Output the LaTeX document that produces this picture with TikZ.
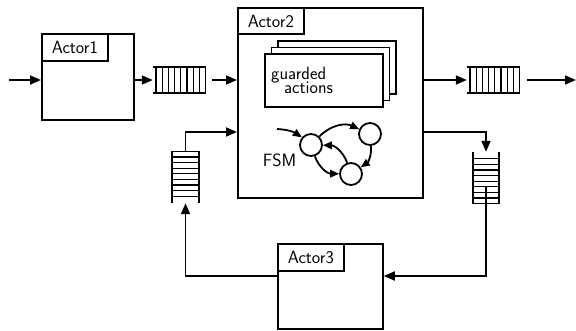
\documentclass[tikz,border=0pt]{standalone}
\usetikzlibrary{arrows.meta,calc}
\begin{document}
\begin{tikzpicture}[x=1pt,y=-1pt,
  lw/.style={line width=1.8pt},
  bar/.style={line width=1.3pt},
  arr/.style={lw,-{Triangle[length=11pt,width=9pt]}},
  sarr/.style={lw,-{Triangle[length=9pt,width=7.5pt]}},
  actor/.style={draw,lw,anchor=north west,inner sep=0pt},
  title/.style={draw,lw,anchor=north west,minimum width=66,minimum height=27,inner sep=0pt,font=\labelfont},
  qbox/.style={inner sep=0pt,minimum width=53,minimum height=26},
  vqbox/.style={inner sep=0pt,minimum width=26,minimum height=52},
  card/.style={draw,lw,fill=white,anchor=north west,minimum width=118,minimum height=53,inner sep=0pt},
  state/.style={circle,draw,lw,minimum size=22,inner sep=0pt},
  txt/.style={font=\labelfont,inner sep=0pt}]
\newcommand\labelfont{\sffamily\fontsize{17.8}{20}\selectfont}
\useasboundingbox (0,0) rectangle (576,330);

% actors
\node[actor,minimum width=92,minimum height=86] (a1) at (41,33) {};
\node[title] (t1) at (a1.north west) {Actor1};
\node[actor,minimum width=185,minimum height=190] (a2) at (237,7) {};
\node[title,minimum height=26] (t2) at (a2.north west) {Actor2};
\node[actor,minimum width=105,minimum height=85] (a3) at (277,243) {};
\node[title] (t3) at (a3.north west) {Actor3};

% guarded actions: stacked cards
\node[card] (c3) at (277,40) {};
\node[card] (c2) at (270.5,46.5) {};
\node[card] (c1) at (264,53) {};
\node[txt,anchor=base west] (g1) at (271,79) {guarded};
\node[txt,anchor=base west] (g2) at (284,93) {actions};

% finite state machine
\node[state] (sA) at (311,145) {};
\node[state] (sB) at (370,134) {};
\node[state] (sC) at (351,174) {};
\coordinate (s0) at (277,129);
\node[txt] (fsm) at (279.5,160) {FSM};
\draw[sarr] (s0) to[bend left=15] (sA);
\draw[sarr] (sA) to[bend left=35] (sB);
\draw[sarr] (sB) to[bend left=30] (sC);
\draw[sarr] (sA) to[bend right=35] (sC);
\draw[sarr] (sC) to[bend right=35] (sA);

% queues
\node[qbox] (q1) at (179.5,80) {};
\node[qbox] (q2) at (493.5,80) {};
\node[vqbox] (q3) at (486,178) {};
\node[vqbox] (q4) at (185.5,177) {};
\foreach \q in {q1,q2}{
  \draw[lw] (\q.north west) -- (\q.north east) (\q.south west) -- (\q.south east);
  \foreach \i in {0,...,8}
    \draw[bar] ($(\q.north east)+(-6.2*\i-0.6,0)$) -- ($(\q.south east)+(-6.2*\i-0.6,0)$);
}
% downward queue: open at the top
\draw[lw] (q3.north west) -- (q3.south west) (q3.north east) -- (q3.south east);
\foreach \i in {0,...,8}
  \draw[bar] ($(q3.south west)+(0,-5.6*\i-0.6)$) -- ($(q3.south east)+(0,-5.6*\i-0.6)$);
% upward queue: open at the bottom
\draw[lw] (q4.north west) -- (q4.south west) (q4.north east) -- (q4.south east);
\foreach \i in {0,...,8}
  \draw[bar] ($(q4.north west)+(0,5.6*\i+0.6)$) -- ($(q4.north east)+(0,5.6*\i+0.6)$);

% connectors
\coordinate (in) at (9,80);
\coordinate (out) at (576,80);
\draw[arr] (in) -- (in -| a1.west);
\draw[arr] (q1.west -| a1.east) -- (q1.west);
\draw[arr] ([xshift=6]q1.east) -- (q1.east -| a2.west);
\draw[arr] (q2.west -| a2.east) -- (q2.west);
\draw[arr] ([xshift=7]q2.east) -- (out);
\coordinate (r1) at (486,132);
\draw[arr] (r1 -| a2.east) -- (r1) -- (q3.north);
\coordinate (r2) at (486,276);
\draw[arr] (q3.south) -- ([yshift=17]q3.south) -- (r2) -- (r2 -| a3.east);
\coordinate (l1) at (185.5,276);
\draw[arr] (l1 -| a3.west) -- (l1) -- (q4.south);
\coordinate (l2) at (185.5,132);
\draw[arr] (q4.north) -- (l2) -- (l2 -| a2.west);
\end{tikzpicture}
\end{document}
